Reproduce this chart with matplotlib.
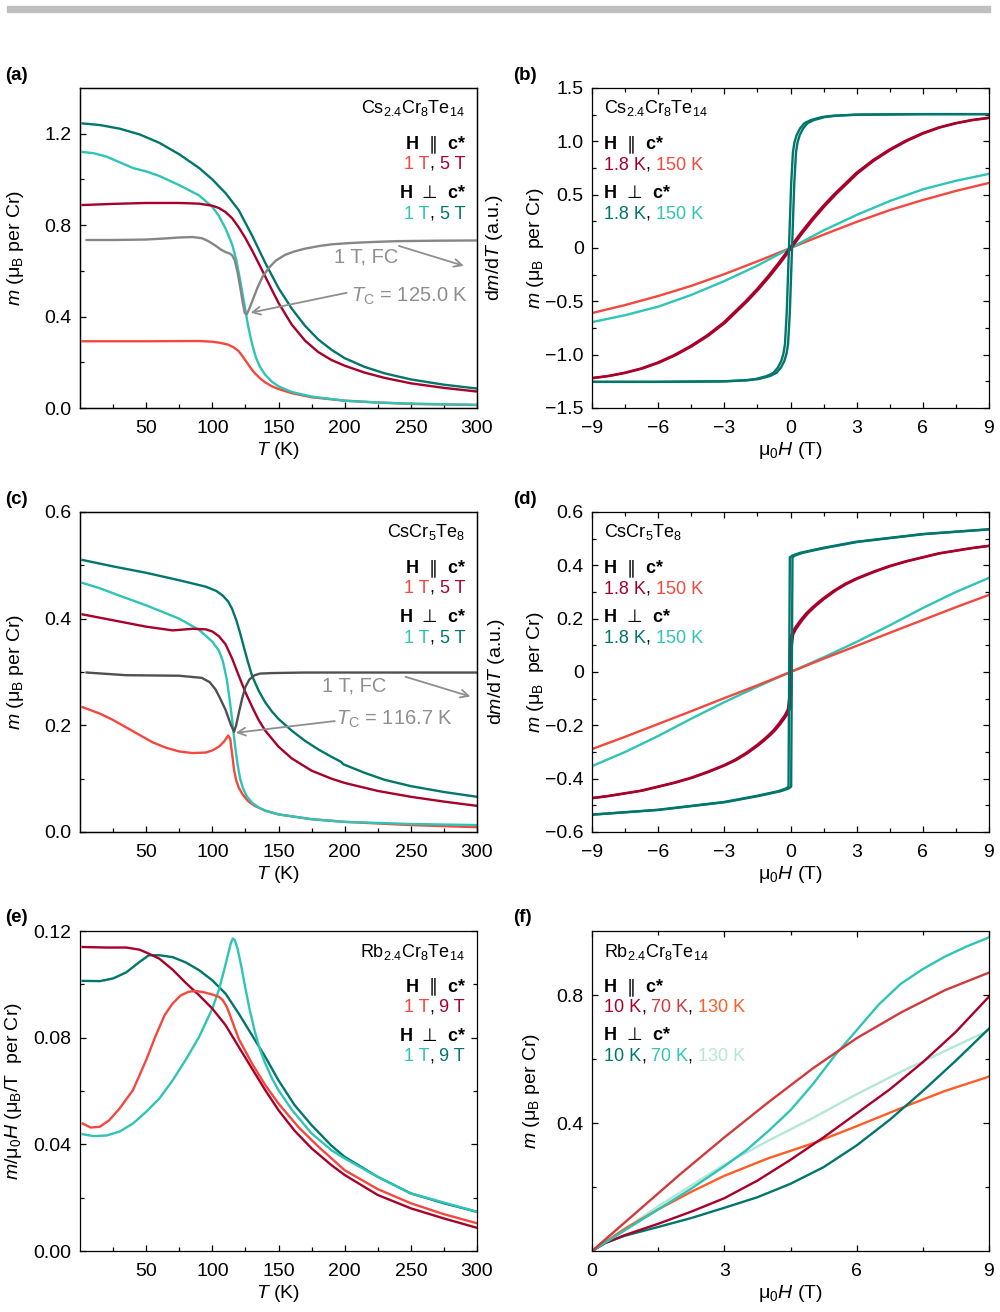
import numpy as np
import matplotlib
matplotlib.use('Agg')
import matplotlib.pyplot as plt
from matplotlib.offsetbox import TextArea, HPacker, AnchoredOffsetbox
from matplotlib.patches import Rectangle

FAM = ['Liberation Sans', 'DejaVu Sans']
plt.rcParams['font.family'] = FAM
plt.rcParams['font.size'] = 14
plt.rcParams['mathtext.fontset'] = 'custom'
plt.rcParams['mathtext.rm'] = 'Liberation Sans'
plt.rcParams['mathtext.it'] = 'Liberation Sans:italic'
plt.rcParams['mathtext.bf'] = 'Liberation Sans:bold'
plt.rcParams['axes.linewidth'] = 0.9

# colours
DTEAL = '#00766c'
LTEAL = '#2ec4b6'
DRED = '#a8002a'
RORANGE = '#f4473d'
MRED = '#d03a3c'
ORANGE = '#ff5c26'
MINT = '#b3e7d8'
GRAY_A = '#868686'
GRAY_C = '#505050'
ANN = '#8e8e8e'

# ---------------- (a) Cs2.4Cr8Te14, m(T) ----------------
T_a_dteal = [2, 15, 30, 45, 60, 75, 90, 100, 110, 120, 130, 140, 150, 160, 170, 180, 190, 200, 215, 230, 250, 275, 300]
m_a_dteal = [1.245, 1.238, 1.222, 1.197, 1.16, 1.11, 1.05, 1.0, 0.94, 0.865, 0.755, 0.635, 0.525, 0.435, 0.36, 0.3, 0.255, 0.218, 0.18, 0.152, 0.125, 0.102, 0.085]
T_a_dred = [2, 25, 50, 75, 90, 100, 105, 110, 115, 120, 125, 130, 135, 140, 145, 150, 160, 170, 180, 190, 200, 215, 230, 250, 275, 300]
m_a_dred = [0.888, 0.893, 0.897, 0.897, 0.894, 0.885, 0.875, 0.857, 0.83, 0.79, 0.743, 0.69, 0.633, 0.575, 0.517, 0.46, 0.365, 0.295, 0.245, 0.21, 0.185, 0.155, 0.132, 0.108, 0.088, 0.072]
T_a_lteal = [2, 10, 20, 30, 40, 50, 60, 75, 90, 100, 105, 110, 115, 118, 121, 124, 127, 130, 133, 136, 140, 145, 150, 160, 175, 200, 225, 250, 300]
m_a_lteal = [1.12, 1.115, 1.1, 1.075, 1.05, 1.035, 1.015, 0.975, 0.93, 0.88, 0.84, 0.785, 0.715, 0.65, 0.56, 0.46, 0.36, 0.28, 0.22, 0.18, 0.145, 0.115, 0.095, 0.07, 0.05, 0.032, 0.024, 0.019, 0.014]
T_a_rorange = [2, 50, 90, 100, 106, 112, 116, 120, 123, 126, 129, 132, 136, 140, 145, 150, 160, 175, 200, 225, 250, 300]
m_a_rorange = [0.292, 0.292, 0.293, 0.29, 0.285, 0.277, 0.266, 0.248, 0.225, 0.2, 0.175, 0.153, 0.13, 0.112, 0.095, 0.083, 0.065, 0.047, 0.032, 0.024, 0.018, 0.013]
T_a_dmdt = [5, 25, 50, 65, 75, 85, 92, 97, 102, 106, 110, 113, 115, 117, 119, 121, 123, 124.5, 126, 128, 131, 134, 138, 143, 148, 155, 162, 170, 180, 190, 205, 220, 240, 270, 300]
d_a_dmdt = [0.735, 0.735, 0.737, 0.742, 0.746, 0.748, 0.743, 0.73, 0.712, 0.695, 0.682, 0.676, 0.668, 0.645, 0.595, 0.53, 0.46, 0.415, 0.41, 0.435, 0.48, 0.525, 0.575, 0.615, 0.645, 0.67, 0.685, 0.697, 0.708, 0.716, 0.722, 0.726, 0.73, 0.732, 0.733]

# ---------------- (b) Cs2.4Cr8Te14, m(H) ----------------
H_b_dteal = [-9, -6, -3, -2, -1.5, -1, -0.7, -0.5, -0.35, -0.25, -0.18, -0.1, 0, 0.1, 0.18, 0.25, 0.35, 0.5, 0.7, 1, 1.5, 2, 3, 6, 9]
m_b_dteal = [-1.255, -1.255, -1.25, -1.24, -1.228, -1.2, -1.17, -1.12, -1.06, -0.99, -0.9, -0.6, 0, 0.6, 0.9, 0.99, 1.06, 1.12, 1.17, 1.2, 1.228, 1.24, 1.25, 1.255, 1.255]
Hc_b_dteal = 0.07
H_b_dred = [-9, -8.25, -7.5, -6.75, -6, -5.25, -4.5, -3.75, -3, -2.5, -2, -1.5, -1, -0.5, 0,
            0.5, 1, 1.5, 2, 2.5, 3, 3.75, 4.5, 5.25, 6, 6.75, 7.5, 8.25, 9]
m_b_dred = [-1.22, -1.2, -1.17, -1.13, -1.075, -1.005, -0.92, -0.82, -0.7, -0.6, -0.5, -0.39, -0.27, -0.14, 0,
            0.14, 0.27, 0.39, 0.5, 0.6, 0.7, 0.82, 0.92, 1.005, 1.075, 1.13, 1.17, 1.2, 1.22]
Hc_b_dred = 0.04
H_b_para = [-9, -7.5, -6, -4.5, -3, -1.5, 0, 1.5, 3, 4.5, 6, 7.5, 9]
m_b_lteal = [-0.695, -0.63, -0.55, -0.44, -0.31, -0.165, 0, 0.165, 0.31, 0.44, 0.55, 0.63, 0.695]
m_b_rorange = [-0.61, -0.535, -0.45, -0.355, -0.245, -0.125, 0, 0.125, 0.245, 0.355, 0.45, 0.535, 0.61]

# ---------------- (c) CsCr5Te8, m(T) ----------------
T_c_dteal = [2, 25, 50, 75, 95, 103, 108, 112, 115, 118, 121, 124, 127, 130, 135, 140, 145, 150, 160, 170, 180, 190, 197, 199, 202, 215, 230, 250, 275, 300]
m_c_dteal = [0.51, 0.498, 0.486, 0.472, 0.46, 0.452, 0.443, 0.432, 0.418, 0.398, 0.373, 0.345, 0.318, 0.293, 0.265, 0.243, 0.226, 0.212, 0.19, 0.171, 0.155, 0.141, 0.132, 0.127, 0.124, 0.111, 0.098, 0.086, 0.075, 0.066]
T_c_dred = [2, 25, 50, 70, 85, 95, 100, 105, 110, 115, 120, 125, 130, 135, 140, 150, 160, 175, 190, 200, 225, 250, 275, 300]
m_c_dred = [0.408, 0.397, 0.385, 0.378, 0.381, 0.38, 0.376, 0.367, 0.352, 0.325, 0.293, 0.262, 0.235, 0.21, 0.19, 0.16, 0.138, 0.115, 0.1, 0.092, 0.077, 0.066, 0.057, 0.049]
T_c_lteal = [2, 15, 30, 50, 75, 90, 100, 105, 108, 111, 113, 115, 117, 119, 121, 123, 126, 130, 135, 140, 150, 175, 200, 250, 300]
m_c_lteal = [0.467, 0.457, 0.443, 0.425, 0.4, 0.379, 0.357, 0.34, 0.32, 0.285, 0.25, 0.21, 0.165, 0.128, 0.1, 0.083, 0.067, 0.055, 0.046, 0.04, 0.033, 0.024, 0.019, 0.015, 0.013]
T_c_rorange = [2, 15, 25, 35, 45, 55, 65, 75, 85, 95, 100, 105, 109, 112, 113.5, 115, 116.5, 118, 120, 123, 127, 132, 140, 150, 175, 200, 250, 300]
m_c_rorange = [0.234, 0.222, 0.21, 0.196, 0.182, 0.168, 0.158, 0.151, 0.148, 0.149, 0.153, 0.16, 0.17, 0.181, 0.175, 0.145, 0.115, 0.097, 0.083, 0.07, 0.058, 0.049, 0.04, 0.033, 0.024, 0.019, 0.013, 0.009]
T_c_dmdt = [5, 35, 75, 92, 98, 102.5, 106, 110, 114, 116.4, 118, 120, 122.5, 125, 128, 132, 136, 145, 170, 300]
d_c_dmdt = [0.299, 0.294, 0.293, 0.289, 0.281, 0.267, 0.25, 0.229, 0.201, 0.188, 0.2, 0.223, 0.25, 0.272, 0.286, 0.294, 0.297, 0.298, 0.299, 0.299]

# ---------------- (d) CsCr5Te8, m(H) ----------------
H_d_dteal = [-9, -6, -3, -1.5, -0.5, -0.15, -0.03, 0.03, 0.15, 0.5, 1.5, 3, 6, 9]
m_d_dteal = [-0.535, -0.517, -0.488, -0.465, -0.447, -0.437, -0.43, 0.43, 0.437, 0.447, 0.465, 0.488, 0.517, 0.535]
Hc_d_dteal = 0.06
H_d_dred = [-9, -8.25, -7.5, -6.75, -6, -5.25, -4.5, -3.75, -3, -2.5, -2, -1.5, -1.25, -1, -0.75, -0.5, -0.3, -0.2, -0.08, -0.02,
            0.02, 0.08, 0.2, 0.3, 0.5, 0.75, 1, 1.25, 1.5, 2, 2.5, 3, 3.75, 4.5, 5.25, 6, 6.75, 7.5, 8.25, 9]
m_d_dred = [-0.473, -0.465, -0.455, -0.445, -0.43, -0.415, -0.397, -0.375, -0.35, -0.33, -0.305, -0.275, -0.258, -0.24, -0.22, -0.195, -0.172, -0.16, -0.14, -0.1,
            0.1, 0.14, 0.16, 0.172, 0.195, 0.22, 0.24, 0.258, 0.275, 0.305, 0.33, 0.35, 0.375, 0.397, 0.415, 0.43, 0.445, 0.455, 0.465, 0.473]
Hc_d_dred = 0.04
H_d_para = [-9, -7.5, -6, -4.5, -3, -1.5, 0, 1.5, 3, 4.5, 6, 7.5, 9]
m_d_lteal = [-0.353, -0.3, -0.24, -0.175, -0.113, -0.055, 0, 0.055, 0.113, 0.175, 0.24, 0.3, 0.353]
m_d_rorange = [-0.289, -0.243, -0.195, -0.147, -0.098, -0.05, 0, 0.05, 0.098, 0.147, 0.195, 0.243, 0.289]

# ---------------- (e) Rb2.4Cr8Te14, m/H(T) ----------------
T_e_dred = [2, 20, 35, 45, 52, 60, 70, 80, 90, 100, 110, 120, 130, 140, 150, 162, 175, 190, 200, 225, 250, 275, 300]
c_e_dred = [0.114, 0.1138, 0.1138, 0.113, 0.1115, 0.1096, 0.1055, 0.1005, 0.0959, 0.0909, 0.0847, 0.0765, 0.0684, 0.0603, 0.0528, 0.0452, 0.0385, 0.0322, 0.0285, 0.021, 0.016, 0.0122, 0.0087]
T_e_rorange = [2, 8, 15, 22, 30, 40, 50, 57, 64, 70, 76, 82, 87, 93, 100, 105, 108, 111, 115, 120, 130, 140, 150, 165, 180, 200, 225, 250, 275, 300]
c_e_rorange = [0.0478, 0.0463, 0.0466, 0.049, 0.0535, 0.0603, 0.0716, 0.0805, 0.0885, 0.0928, 0.0958, 0.0972, 0.0975, 0.0971, 0.0962, 0.0953, 0.094, 0.0915, 0.0862, 0.0795, 0.0703, 0.0622, 0.0553, 0.0465, 0.0392, 0.0303, 0.0232, 0.0179, 0.0138, 0.0104]
T_e_dteal = [2, 15, 25, 35, 45, 52, 60, 70, 80, 90, 100, 110, 120, 130, 140, 150, 162, 175, 190, 200, 225, 250, 275, 300]
c_e_dteal = [0.1013, 0.1012, 0.1022, 0.1045, 0.1084, 0.1109, 0.1109, 0.1102, 0.1082, 0.1053, 0.1015, 0.0965, 0.089, 0.0809, 0.0728, 0.064, 0.0548, 0.0472, 0.0395, 0.0353, 0.0278, 0.0216, 0.0179, 0.0147]
T_e_lteal = [2, 10, 20, 30, 40, 50, 60, 70, 80, 90, 100, 105, 109, 112, 114, 115.5, 117, 119, 122, 125, 128, 132, 136, 140, 145, 150, 160, 175, 190, 200, 225, 250, 300]
c_e_lteal = [0.0438, 0.0431, 0.0433, 0.0448, 0.0478, 0.0522, 0.0572, 0.064, 0.0718, 0.0803, 0.0909, 0.098, 0.1055, 0.1115, 0.1155, 0.1172, 0.1165, 0.1135, 0.1065, 0.0985, 0.091, 0.0825, 0.0755, 0.0703, 0.0648, 0.0603, 0.053, 0.0441, 0.0378, 0.0347, 0.0278, 0.0216, 0.0147]

# ---------------- (f) Rb2.4Cr8Te14, m(H) ----------------
H_f_dred = [0, 0.3, 0.75, 1.5, 2.25, 3, 3.75, 4.5, 5.25, 6, 6.75, 7.5, 8.25, 9]
m_f_dred = [0, 0.025, 0.05, 0.085, 0.123, 0.165, 0.22, 0.285, 0.355, 0.43, 0.505, 0.59, 0.685, 0.795]
H_f_mred = [0, 1, 2, 3, 4, 5, 6, 7, 8, 9]
m_f_mred = [0, 0.12, 0.24, 0.355, 0.465, 0.57, 0.665, 0.745, 0.815, 0.87]
H_f_orange = [0, 0.75, 1.5, 2.25, 3, 4, 5, 6, 7.25, 8, 9]
m_f_orange = [0, 0.07, 0.13, 0.185, 0.235, 0.29, 0.336, 0.39, 0.46, 0.5, 0.545]
H_f_dteal = [0, 0.3, 0.75, 1.5, 2.25, 3, 3.75, 4.5, 5.25, 6, 6.75, 7.5, 8.25, 9]
m_f_dteal = [0, 0.025, 0.048, 0.075, 0.103, 0.135, 0.168, 0.21, 0.262, 0.33, 0.41, 0.5, 0.595, 0.695]
H_f_lteal = [0, 0.75, 1.5, 2.25, 3, 3.5, 4, 4.5, 5, 5.5, 6, 6.5, 7, 7.5, 8, 8.5, 9]
m_f_lteal = [0, 0.065, 0.13, 0.195, 0.265, 0.315, 0.375, 0.44, 0.52, 0.61, 0.69, 0.77, 0.835, 0.881, 0.92, 0.952, 0.98]
H_f_mint = [0, 1.5, 3, 4, 5, 6, 7, 8, 9]
m_f_mint = [0, 0.14, 0.27, 0.345, 0.415, 0.49, 0.56, 0.625, 0.69]

LW = 1.7
FS_TICK = 14
FS_LEG = 13


def pos(left, top):
    return [left / 1000, 1 - (top + 320) / 1312, 397 / 1000, 320 / 1312]


def style(ax, top=False, right=False):
    ax.tick_params(which='both', direction='in', top=top, right=right, width=0.9)
    ax.tick_params(which='major', length=4.5, labelsize=FS_TICK)
    ax.tick_params(which='minor', length=2.8)
    ax.tick_params(axis='x', which='major', pad=8.5)
    ax.tick_params(axis='y', which='major', pad=6)


def put_line(ax, x, y, pieces, loc):
    boxes = [TextArea(s, textprops=dict(color=c, fontsize=FS_LEG, fontweight=w, family=FAM))
             for s, c, w in pieces]
    box = HPacker(children=boxes, align='baseline', pad=0, sep=0)
    anch = AnchoredOffsetbox(loc=loc, child=box, pad=0, borderpad=0, frameon=False,
                             bbox_to_anchor=(x, y), bbox_transform=ax.transAxes)
    ax.add_artist(anch)


def legend_block(ax, x, ys, formula, c_par, c_perp, loc):
    put_line(ax, x, ys[0], [(formula, 'k', 'normal')], loc)
    put_line(ax, x, ys[1], [('H', 'k', 'bold'), ('  \u2225', 'k', 'normal'), ('  c*', 'k', 'bold')], loc)
    put_line(ax, x, ys[2], c_par, loc)
    put_line(ax, x, ys[3], [('H', 'k', 'bold'), ('  \u22a5', 'k', 'normal'), ('  c*', 'k', 'bold')], loc)
    put_line(ax, x, ys[4], c_perp, loc)


def temp_axis(ax):
    ax.set_xlim(0, 300)
    ax.set_xticks([50, 100, 150, 200, 250, 300])
    ax.set_xticks([25, 75, 125, 175, 225, 275], minor=True)
    ax.set_xlabel(r'$T$ (K)', labelpad=2)


def field_axis(ax):
    ax.set_xlim(-9, 9)
    ax.set_xticks([-9, -6, -3, 0, 3, 6, 9], ['\u22129', '\u22126', '\u22123', '0', '3', '6', '9'])
    ax.set_xticks([-7.5, -4.5, -1.5, 1.5, 4.5, 7.5], minor=True)
    ax.set_xlabel(r'μ$_0H$ (T)', labelpad=2)


fig = plt.figure(figsize=(10, 13.12), dpi=100)
fig.patches.append(Rectangle((0.007, 1 - 12 / 1312), 0.983, 6 / 1312, transform=fig.transFigure,
                             color='#bfbfbf', zorder=0))

ax_a = fig.add_axes(pos(80, 88))
ax_b = fig.add_axes(pos(592, 88))
ax_c = fig.add_axes(pos(80, 512))
ax_d = fig.add_axes(pos(592, 512))
ax_e = fig.add_axes(pos(80, 931))
ax_f = fig.add_axes(pos(592, 931))

ys_left = [0.9375, 0.825, 0.762, 0.669, 0.606]
arrow = dict(arrowstyle='->', color=ANN, lw=1.3, shrinkA=0, shrinkB=0)

# ---- (a)
ax = ax_a
style(ax)
ax.plot(T_a_rorange, m_a_rorange, color=RORANGE, lw=LW)
ax.plot(T_a_lteal, m_a_lteal, color=LTEAL, lw=LW)
ax.plot(T_a_dred, m_a_dred, color=DRED, lw=LW)
ax.plot(T_a_dteal, m_a_dteal, color=DTEAL, lw=LW)
temp_axis(ax)
ax.set_ylim(0, 1.4)
ax.set_yticks([0, 0.4, 0.8, 1.2], ['0.0', '0.4', '0.8', '1.2'])
ax.set_yticks([0.2, 0.6, 1.0], minor=True)
ax.set_ylabel(r'$m$ (μ$_\mathrm{B}$ per Cr)')
ax.yaxis.set_label_coords(-0.135, 0.5)
tw = ax.twinx()
tw.plot(T_a_dmdt, d_a_dmdt, color=GRAY_A, lw=LW)
tw.set_ylim(0, 1.4)
tw.tick_params(right=False, labelright=False)
tw.set_ylabel(r'd$m$/d$T$ (a.u.)')
tw.yaxis.set_label_coords(1.017, 0.5)
ax.text(192, 0.636, '1 T, FC', color=ANN, ha='left', va='baseline', fontsize=14.5)
ax.annotate('', xy=(290, 0.622), xytext=(241, 0.709), arrowprops=arrow)
ax.text(204.5, 0.465, r'$T_\mathrm{C}$ = 125.0 K', color=ANN, ha='left', va='baseline', fontsize=14.5)
ax.annotate('', xy=(129, 0.417), xytext=(201.5, 0.504), arrowprops=arrow)
legend_block(ax, 0.97, ys_left, r'Cs$_{2.4}$Cr$_8$Te$_{14}$',
             [('1 T', RORANGE, 'normal'), (',', 'k', 'normal'), (' 5 T', DRED, 'normal')],
             [('1 T', LTEAL, 'normal'), (',', 'k', 'normal'), (' 5 T', DTEAL, 'normal')], 'center right')

# ---- (b)
ax = ax_b
style(ax, top=True, right=True)
ax.plot(H_b_para, m_b_rorange, color=RORANGE, lw=LW)
ax.plot(H_b_para, m_b_lteal, color=LTEAL, lw=LW)
ax.plot(np.array(H_b_dred) - Hc_b_dred, m_b_dred, color=DRED, lw=LW)
ax.plot(np.array(H_b_dred) + Hc_b_dred, m_b_dred, color=DRED, lw=LW)
ax.plot(np.array(H_b_dteal) - Hc_b_dteal, m_b_dteal, color=DTEAL, lw=LW)
ax.plot(np.array(H_b_dteal) + Hc_b_dteal, m_b_dteal, color=DTEAL, lw=LW)
field_axis(ax)
ax.set_ylim(-1.5, 1.5)
ax.set_yticks([-1.5, -1.0, -0.5, 0, 0.5, 1.0, 1.5],
              ['\u22121.5', '\u22121.0', '\u22120.5', '0', '0.5', '1.0', '1.5'])
ax.set_yticks([-1.25, -0.75, -0.25, 0.25, 0.75, 1.25], minor=True)
ax.set_ylabel(r'$m$ (μ$_\mathrm{B}$  per Cr)')
ax.yaxis.set_label_coords(-0.115, 0.5)
legend_block(ax, 0.03, [0.9375, 0.825, 0.759, 0.669, 0.606], r'Cs$_{2.4}$Cr$_8$Te$_{14}$',
             [('1.8 K', DRED, 'normal'), (',', 'k', 'normal'), (' 150 K', RORANGE, 'normal')],
             [('1.8 K', DTEAL, 'normal'), (',', 'k', 'normal'), (' 150 K', LTEAL, 'normal')], 'center left')

# ---- (c)
ax = ax_c
style(ax)
ax.plot(T_c_rorange, m_c_rorange, color=RORANGE, lw=LW)
ax.plot(T_c_lteal, m_c_lteal, color=LTEAL, lw=LW)
ax.plot(T_c_dred, m_c_dred, color=DRED, lw=LW)
ax.plot(T_c_dteal, m_c_dteal, color=DTEAL, lw=LW)
temp_axis(ax)
ax.set_ylim(0, 0.6)
ax.set_yticks([0, 0.2, 0.4, 0.6], ['0.0', '0.2', '0.4', '0.6'])
ax.set_yticks([0.1, 0.3, 0.5], minor=True)
ax.set_ylabel(r'$m$ (μ$_\mathrm{B}$ per Cr)')
ax.yaxis.set_label_coords(-0.135, 0.5)
tw = ax.twinx()
tw.plot(T_c_dmdt, d_c_dmdt, color=GRAY_C, lw=LW)
tw.set_ylim(0, 0.6)
tw.tick_params(right=False, labelright=False)
tw.set_ylabel(r'd$m$/d$T$ (a.u.)')
tw.yaxis.set_label_coords(1.022, 0.5)
ax.text(183, 0.263, '1 T, FC', color=ANN, ha='left', va='baseline', fontsize=14.5)
ax.annotate('', xy=(295, 0.254), xytext=(246, 0.291), arrowprops=arrow)
ax.text(193.5, 0.201, r'$T_\mathrm{C}$ = 116.7 K', color=ANN, ha='left', va='baseline', fontsize=14.5)
ax.annotate('', xy=(117.7, 0.186), xytext=(192.5, 0.208), arrowprops=arrow)
legend_block(ax, 0.97, ys_left, r'CsCr$_5$Te$_8$',
             [('1 T', RORANGE, 'normal'), (',', 'k', 'normal'), (' 5 T', DRED, 'normal')],
             [('1 T', LTEAL, 'normal'), (',', 'k', 'normal'), (' 5 T', DTEAL, 'normal')], 'center right')

# ---- (d)
ax = ax_d
style(ax, top=True, right=True)
ax.plot(H_d_para, m_d_lteal, color=LTEAL, lw=LW)
ax.plot(H_d_para, m_d_rorange, color=RORANGE, lw=LW)
ax.plot(np.array(H_d_dred) - Hc_d_dred, m_d_dred, color=DRED, lw=LW)
ax.plot(np.array(H_d_dred) + Hc_d_dred, m_d_dred, color=DRED, lw=LW)
ax.plot(np.array(H_d_dteal) - Hc_d_dteal, m_d_dteal, color=DTEAL, lw=LW)
ax.plot(np.array(H_d_dteal) + Hc_d_dteal, m_d_dteal, color=DTEAL, lw=LW)
field_axis(ax)
ax.set_ylim(-0.6, 0.6)
ax.set_yticks([-0.6, -0.4, -0.2, 0, 0.2, 0.4, 0.6],
              ['\u22120.6', '\u22120.4', '\u22120.2', '0', '0.2', '0.4', '0.6'])
ax.set_yticks([-0.5, -0.3, -0.1, 0.1, 0.3, 0.5], minor=True)
ax.set_ylabel(r'$m$ (μ$_\mathrm{B}$  per Cr)')
ax.yaxis.set_label_coords(-0.115, 0.5)
legend_block(ax, 0.03, [0.9375, 0.825, 0.759, 0.669, 0.606], r'CsCr$_5$Te$_8$',
             [('1.8 K', DRED, 'normal'), (',', 'k', 'normal'), (' 150 K', RORANGE, 'normal')],
             [('1.8 K', DTEAL, 'normal'), (',', 'k', 'normal'), (' 150 K', LTEAL, 'normal')], 'center left')

# ---- (e)
ax = ax_e
style(ax, right=True)
ax.plot(T_e_dteal, c_e_dteal, color=DTEAL, lw=LW)
ax.plot(T_e_lteal, c_e_lteal, color=LTEAL, lw=LW)
ax.plot(T_e_dred, c_e_dred, color=DRED, lw=LW)
ax.plot(T_e_rorange, c_e_rorange, color=RORANGE, lw=LW)
temp_axis(ax)
ax.set_ylim(0, 0.12)
ax.set_yticks([0, 0.04, 0.08, 0.12], ['0.00', '0.04', '0.08', '0.12'])
ax.set_yticks([0.02, 0.06, 0.10], minor=True)
ax.set_ylabel(r'$m$/μ$_0H$ (μ$_\mathrm{B}$/T  per Cr)')
ax.yaxis.set_label_coords(-0.14, 0.5)
legend_block(ax, 0.97, [0.934, 0.826, 0.76, 0.67, 0.607], r'Rb$_{2.4}$Cr$_8$Te$_{14}$',
             [('1 T', RORANGE, 'normal'), (',', 'k', 'normal'), (' 9 T', DRED, 'normal')],
             [('1 T', LTEAL, 'normal'), (',', 'k', 'normal'), (' 9 T', DTEAL, 'normal')], 'center right')

# ---- (f)
ax = ax_f
style(ax, top=True, right=True)
ax.plot(H_f_mint, m_f_mint, color=MINT, lw=LW)
ax.plot(H_f_orange, m_f_orange, color=ORANGE, lw=LW)
ax.plot(H_f_dteal, m_f_dteal, color=DTEAL, lw=LW)
ax.plot(H_f_dred, m_f_dred, color=DRED, lw=LW)
ax.plot(H_f_lteal, m_f_lteal, color=LTEAL, lw=LW)
ax.plot(H_f_mred, m_f_mred, color=MRED, lw=LW)
ax.set_xlim(0, 9)
ax.set_xticks([0, 3, 6, 9])
ax.set_xticks([1.5, 4.5, 7.5], minor=True)
ax.set_xlabel(r'μ$_0H$ (T)', labelpad=2)
ax.set_ylim(0, 1.0)
ax.set_yticks([0.4, 0.8], ['0.4', '0.8'])
ax.set_yticks([0.2, 0.6], minor=True)
ax.set_ylabel(r'$m$ (μ$_\mathrm{B}$ per Cr)')
ax.yaxis.set_label_coords(-0.125, 0.5)
legend_block(ax, 0.03, [0.934, 0.823, 0.76, 0.673, 0.607], r'Rb$_{2.4}$Cr$_8$Te$_{14}$',
             [('10 K', DRED, 'normal'), (',', 'k', 'normal'), (' 70 K', MRED, 'normal'),
              (',', 'k', 'normal'), (' 130 K', ORANGE, 'normal')],
             [('10 K', DTEAL, 'normal'), (',', 'k', 'normal'), (' 70 K', LTEAL, 'normal'),
              (',', 'k', 'normal'), (' 130 K', MINT, 'normal')], 'center left')

# panel letters
for lab, x, y in [('(a)', 5, 75), ('(b)', 513, 75), ('(c)', 5, 499),
                  ('(d)', 513, 499), ('(e)', 5, 918), ('(f)', 513, 918)]:
    fig.text(x / 1000, 1 - y / 1312, lab, fontsize=13.5, fontweight='bold', ha='left', va='center')

fig.savefig('out.png', dpi=100)
